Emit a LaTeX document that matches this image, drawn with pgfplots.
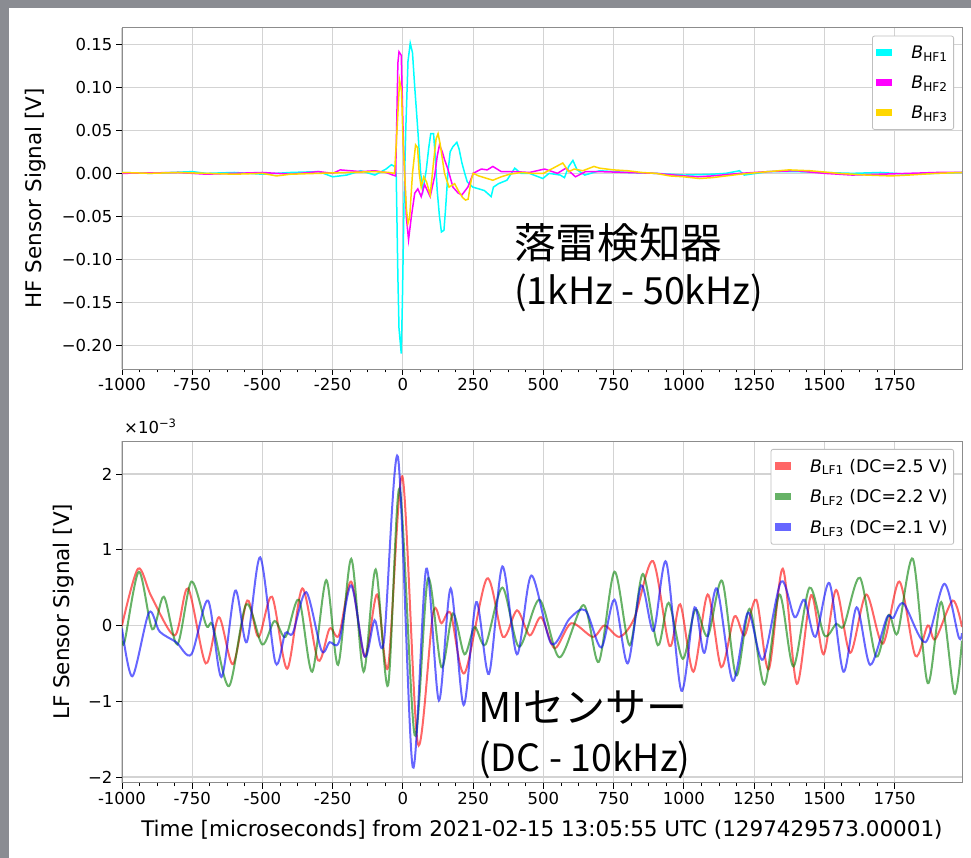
\documentclass[border=0pt]{standalone}
\usepackage{fontspec}
\setmainfont{DejaVu Sans}
\newfontfamily\jp{Noto Sans CJK JP}
\usepackage{pgfplots}
\pgfplotsset{compat=1.18}
\definecolor{bgstar}{HTML}{8A8C92}
\definecolor{gridc}{HTML}{D3D3D3}
\definecolor{hfone}{HTML}{00FFFF}
\definecolor{hftwo}{HTML}{FF00FF}
\definecolor{hfthree}{HTML}{FFD700}
\definecolor{lfgreen}{HTML}{008000}
\pgfplotsset{
 mystyle/.style={
  scale only axis, width=840pt,
  xmin=-1000, xmax=1990,
  axis line style={black!45, line width=0.9pt},
  grid=major, major grid style={gridc, line width=1.1pt},
  tick align=outside, xtick pos=bottom, ytick pos=left,
  major tick length=6pt, minor tick length=3.5pt,
  every tick/.style={black, line width=0.9pt},
  minor x tick num=3,
  xtick={-1000,-750,...,1750},
  xticklabels={-1000,-750,-500,-250,0,250,500,750,1000,1250,1500,1750},
  tick label style={font=\fontsize{16.5}{19}\selectfont},
  label style={font=\fontsize{21.5}{25}\selectfont},
  legend cell align=left,
  legend style={font=\fontsize{17.3}{20}\selectfont, draw=black!25, line width=0.8pt,
     fill=white, rounded corners=2pt, at={(axis description cs:1,1)}, anchor=north east,
     xshift=-8pt, yshift=-8pt, inner xsep=4pt, inner ysep=7.5pt, row sep=12pt,
     /tikz/every odd column/.append style={column sep=17pt}},
  legend image code/.code={\fill[##1, sharp corners, draw=none] (0pt,-3.5pt) rectangle (16pt,4pt);},
 }
}
\begin{document}
\begin{tikzpicture}[x=1pt,y=1pt]
\path[use as bounding box] (0,0) rectangle (971,858);
\fill[bgstar] (0,0) rectangle (971,858);
\fill[white] (9,0) rectangle (971,850);

% ---------- top panel ----------
\begin{axis}[mystyle, at={(122pt,489pt)}, anchor=south west, height=341.3pt,
  ymin=-0.227, ymax=0.169,
  ytick={-0.2,-0.15,-0.1,-0.05,0,0.05,0.1,0.15},
  yticklabels={−0.20,−0.15,−0.10,−0.05,0.00,0.05,0.10,0.15},
  ylabel={HF Sensor Signal [V]},
  ylabel style={at={(axis description cs:0,0.5)}, anchor=south, inner sep=0pt, yshift=76pt},
]
\addplot[hfone, line width=1.5pt] coordinates {
(-1000,0.001) (-900,0.0) (-750,0.002) (-700,0.0) (-600,0.001) (-500,-0.001) (-400,0.001) (-300,0.002)
(-250,-0.004) (-200,-0.002) (-150,0.003) (-100,-0.002) (-60,0.005) (-41,0.01) (-30,0.008) (-24,0.0)
(-18,-0.12) (-14,-0.18) (-6,-0.209) (-2,-0.15) (4,-0.03) (10,0.05) (18,0.13) (26,0.151) (34,0.14)
(42,0.1) (53,0.05) (63,0.0) (71,-0.02) (83,0.004) (92,0.03) (99,0.046) (109,0.046) (115,0.02)
(122,-0.02) (130,-0.05) (137,-0.068) (146,-0.066) (152,-0.04) (160,0.0) (168,0.025) (178,0.031)
(192,0.036) (200,0.028) (210,0.012) (220,0.0) (229,-0.01) (249,-0.016) (270,-0.018) (290,-0.02)
(314,-0.027) (322,-0.016) (340,-0.012) (370,-0.008) (398,0.006) (420,0.0) (450,0.0) (498,-0.006)
(520,0.0) (560,-0.002) (575,-0.005) (590,0.008) (605,0.015) (620,0.004) (647,-0.002) (700,0.003)
(750,0.002) (800,0.001) (900,0.0) (1000,-0.002) (1100,-0.001) (1150,0.0) (1198,0.003) (1215,-0.002)
(1300,0.002) (1400,0.002) (1500,0.001) (1600,0.0) (1700,0.001) (1800,-0.001) (1900,0.0) (1990,0.001)
};
\addlegendentry{\textit{B}\textsubscript{HF1}}
\addplot[hftwo, line width=1.5pt] coordinates {
(-1000,0.0) (-800,0.001) (-700,-0.001) (-600,0.0) (-500,0.001) (-400,-0.001) (-300,0.002) (-250,0.0)
(-223,0.004) (-150,0.002) (-100,0.003) (-60,0.001) (-36,-0.002) (-26,-0.003) (-22,0.06) (-18,0.128)
(-14,0.141) (-6,0.137) (2,0.031) (12,-0.05) (20,-0.077) (30,-0.05) (42,-0.023) (53,-0.018) (65,-0.027)
(77,-0.013) (87,-0.02) (97,-0.027) (113,-0.003) (122,0.02) (130,0.033) (140,0.025) (148,0.016)
(160,0.005) (178,-0.016) (197,-0.023) (210,-0.025) (231,-0.016) (250,0.0) (279,0.005) (300,0.004)
(320,0.008) (350,0.002) (400,0.002) (450,0.001) (504,0.005) (550,0.0) (580,0.006) (604,-0.001)
(614,-0.004) (650,0.002) (700,0.002) (800,0.001) (900,0.0) (1000,-0.003) (1050,-0.004) (1100,-0.003)
(1200,0.0) (1300,0.002) (1400,0.003) (1500,0.0) (1600,-0.002) (1700,-0.001) (1800,0.0) (1900,0.001) (1990,0.001)
};
\addlegendentry{\textit{B}\textsubscript{HF2}}
\addplot[hfthree, line width=1.5pt] coordinates {
(-1000,0.001) (-900,0.0) (-800,0.001) (-700,0.0) (-600,-0.001) (-500,0.0) (-450,-0.003) (-400,-0.001)
(-300,0.0) (-200,0.001) (-100,0.002) (-50,0.001) (-30,0.0) (-21,0.05) (-12,0.108) (-5,0.095) (0,0.04)
(6,0.0) (12,-0.04) (18,-0.058) (24,-0.051) (34,0.0) (45,0.033) (52,0.03) (58,0.0) (65,-0.016) (74,-0.004)
(84,-0.01) (97,-0.025) (109,0.013) (118,0.04) (125,0.046) (132,0.035) (148,0.0) (164,-0.016) (184,-0.012)
(197,-0.02) (212,-0.028) (223,-0.031) (232,-0.03) (243,-0.008) (250,0.0) (270,-0.003) (290,-0.005)
(320,-0.008) (350,-0.004) (380,-0.001) (420,0.001) (460,0.0) (500,0.0) (546,0.008) (569,0.012) (590,0.002)
(610,0.005) (640,0.003) (680,0.008) (700,0.006) (750,0.004) (800,0.003) (850,0.001) (900,0.0) (950,-0.003)
(1000,-0.004) (1055,-0.006) (1100,-0.005) (1150,-0.003) (1200,-0.001) (1300,0.002) (1374,0.004) (1450,0.003)
(1550,0.0) (1650,-0.002) (1738,-0.003) (1800,-0.002) (1900,0.0) (1990,0.001)
};
\addlegendentry{\textit{B}\textsubscript{HF3}}
\end{axis}

% ---------- bottom panel ----------
\begin{axis}[mystyle, at={(122pt,75.3pt)}, anchor=south west, height=341.7pt,
  ymin=-2.075, ymax=2.436,
  ytick={-2,-1,0,1,2},
  yticklabels={−2,−1,0,1,2},
  ylabel={LF Sensor Signal [V]},
  ylabel style={at={(axis description cs:0,0.5)}, anchor=south, inner sep=0pt, yshift=48pt},
  xlabel={Time [microseconds] from 2021-02-15 13:05:55 UTC (1297429573.00001)},
  xlabel style={at={(axis description cs:0.5,0)}, anchor=base, inner sep=0pt, yshift=-54pt},
]
\addplot[red, opacity=0.6, line width=2pt, smooth] coordinates {
(-1000,0.0) (-943,0.75) (-895,0.38) (-812,-0.13) (-765,0.49) (-702,-0.5) (-655,0.11) (-605,-0.51)
(-554,0.33) (-514,-0.15) (-466,0.38) (-412,-0.57) (-358,0.49) (-302,-0.46) (-261,-0.04) (-228,-0.13)
(-184,0.58) (-136,-0.41) (-92,0.41) (-53,-0.55) (-2,1.97) (53,-1.56) (107,0.16) (137,0.03) (170,0.16)
(219,-0.63) (299,0.62) (356,-0.15) (406,0.2) (451,-0.13) (492,0.11) (540,-0.3) (599,0.03) (676,-0.15)
(718,0.0) (771,-0.15) (824,0.1) (890,0.85) (949,-0.27) (987,0.28) (1034,-0.61) (1085,0.41) (1133,-0.55)
(1180,0.12) (1216,-0.13) (1258,0.34) (1302,-0.58) (1352,0.75) (1402,-0.77) (1453,0.4) (1497,-0.38)
(1542,0.47) (1592,-0.36) (1649,0.41) (1708,-0.24) (1767,0.58) (1824,-0.4) (1868,0.0) (1895,-0.18)
(1957,0.33) (1990,-0.02)
};
\addlegendentry{\textit{B}\textsubscript{LF1} (DC=2.5 V)}
\addplot[lfgreen, opacity=0.6, line width=2pt, smooth] coordinates {
(-1000,-0.2) (-990,-0.2) (-940,0.71) (-892,-0.05) (-851,0.38) (-803,-0.25) (-753,0.58) (-700,0.0)
(-677,0.0) (-619,-0.8) (-558,0.28) (-501,-0.25) (-457,0.06) (-418,-0.15) (-370,0.34) (-323,-0.61)
(-273,0.6) (-231,-0.52) (-184,0.88) (-140,-0.61) (-97,0.74) (-53,-0.79) (-12,1.81) (42,-1.45) (89,0.62)
(137,-0.55) (178,0.16) (219,-0.38) (255,-0.02) (294,-0.25) (354,0.5) (413,-0.28) (486,0.34) (557,-0.42)
(643,0.27) (697,-0.48) (753,0.71) (807,-0.26) (854,0.68) (907,-0.26) (946,0.3) (996,-0.44) (1041,0.21)
(1085,-0.14) (1136,0.59) (1186,-0.66) (1234,0.22) (1287,-0.78) (1340,0.41) (1390,-0.54) (1447,0.5)
(1500,-0.13) (1542,0.02) (1570,0.0) (1627,0.63) (1684,-0.41) (1729,0.14) (1761,-0.1) (1815,0.88)
(1868,-0.76) (1916,0.31) (1963,-0.9) (1990,-0.2)
};
\addlegendentry{\textit{B}\textsubscript{LF2} (DC=2.2 V)}
\addplot[blue, opacity=0.6, line width=2pt, smooth] coordinates {
(-1000,-0.04) (-963,-0.67) (-904,0.17) (-866,-0.08) (-807,-0.22) (-753,-0.38) (-694,0.33) (-646,-0.68)
(-597,0.46) (-556,-0.22) (-508,0.9) (-454,-0.49) (-419,-0.1) (-392,-0.1) (-344,0.44) (-290,-0.33)
(-261,-0.22) (-228,-0.22) (-184,0.53) (-136,-0.41) (-101,0.07) (-68,-0.22) (-18,2.23) (35,-1.87)
(83,0.75) (128,-0.99) (170,0.49) (216,-1.05) (261,0.31) (306,-0.64) (354,0.78) (406,-0.38) (457,0.66)
(528,-0.24) (593,0.09) (650,0.2) (706,-0.29) (753,0.34) (800,-0.5) (848,0.53) (892,-0.07) (937,0.84)
(991,-0.86) (1038,0.24) (1073,-0.36) (1117,0.49) (1174,-0.73) (1228,0.17) (1281,-0.45) (1346,0.58)
(1394,0.11) (1429,0.34) (1468,-0.15) (1518,0.56) (1568,-0.61) (1615,0.24) (1663,-0.52) (1722,0.1)
(1745,0.1) (1782,0.29) (1860,-0.22) (1927,0.55) (1978,-0.15) (1990,-0.1)
};
\addlegendentry{\textit{B}\textsubscript{LF3} (DC=2.1 V)}
\end{axis}

% ---------- annotations ----------
\node[anchor=base west, inner sep=0pt, font=\fontsize{16.5}{19}\selectfont] at (124,424) {×10\textsuperscript{−3}};
\node[anchor=base west, inner sep=0pt, font=\jp\fontsize{41.6}{48}\selectfont] at (514,599) {落雷検知器};
\node[anchor=base west, inner sep=0pt, font=\jp\fontsize{37.5}{48}\selectfont] at (514,553) {(1kHz - 50kHz)};
\node[anchor=base west, inner sep=0pt, font=\jp\fontsize{41}{48}\selectfont] at (478,135) {MIセンサー};
\node[anchor=base west, inner sep=0pt, font=\jp\fontsize{37.5}{48}\selectfont] at (478,86) {(DC - 10kHz)};
\end{tikzpicture}
\end{document}
